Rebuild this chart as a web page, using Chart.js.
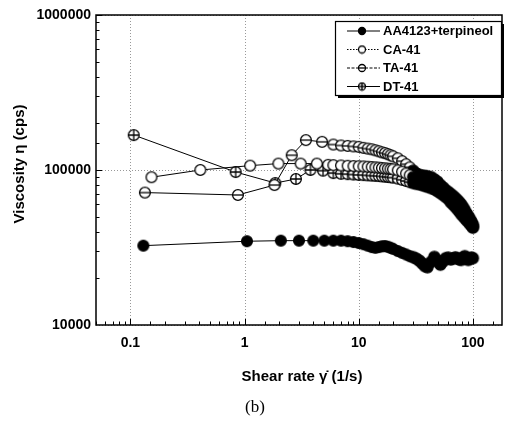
<!DOCTYPE html>
<html>
<head>
<meta charset="utf-8">
<script src="https://cdn.jsdelivr.net/npm/chart.js@4.4.1/dist/chart.umd.min.js"></script>
<style>
  html, body { margin: 0; padding: 0; background: #fff; }
  #grafico { display: block; }
</style>
</head>
<body>
<canvas id="grafico" width="512" height="422"></canvas>
<script>
// ========================= DADOS =========================
const seriesNames = ['AA4123+terpineol', 'CA-41', 'TA-41', 'DT-41'];
const xTickLabels = ['0.1', '1', '10', '100'];
const yTickLabels = ['10000', '100000', '1000000'];

// taxas de cisalhamento da parte densa (comum às quatro curvas)
const denseRate = [6, 7, 8, 9, 10, 11, 12, 13, 14, 15, 16, 17, 18, 19, 20,
    22, 24, 26, 28, 30, 32, 34, 36, 38, 40,
    43, 46, 49, 52, 55, 58, 61, 64, 67, 70, 73, 76, 79, 82, 85, 88, 91, 94, 97, 100];

// início de cada curva (baixas taxas)
const aaRate = [0.13, 1.05, 2.08, 3, 4, 5];
const aaVisc = [32500, 34700, 35000, 35000, 35000, 35000];
const caRate = [0.153, 0.41, 1.12, 1.98, 3.1, 4.3, 5.4];
const caVisc = [89800, 100000, 106700, 110000, 110000, 110000, 108000];
const taRate = [0.134, 0.875, 1.83, 2.59, 3.45, 4.78];
const taVisc = [71500, 69000, 80000, 124500, 156000, 152000];
const dtRate = [0.107, 0.836, 1.86, 2.82, 3.78, 4.87];
const dtVisc = [168000, 97000, 82400, 87500, 100000, 99000];

// parte densa
const aaDense = [35000, 35000, 34700, 34300, 33800, 33200, 32500, 31800, 31500, 31800, 32200, 32300, 32000, 31500, 31000,
    30000, 29200, 28500, 27800, 27400, 26800, 26000, 25000, 24000, 23600,
    25500, 27500, 26000, 24500, 25800, 27000, 27200, 26500, 26800, 27300, 27000, 26500, 26300, 27200, 27800, 27000, 26300, 26800, 27200, 27000];
const caDense = [107500, 107000, 106500, 106000, 105800, 105500, 105000, 104500, 104000, 103500, 103000, 102500, 102000, 101500, 101000,
    99500, 97500, 95000, 92500, 90000, 88000, 87000, 86500, 86000, 85500,
    84000, 81500, 78500, 75500, 72500, 70000, 67500, 65500, 63500, 61500, 59500, 57500, 55500, 53500, 51500, 49500, 47500, 46000, 44500, 42500];
const taDense = [146000, 144000, 143000, 142000, 141000, 139000, 137500, 136000, 134000, 132000, 130000, 128500, 126500, 124500, 122500,
    119000, 114000, 109000, 104000, 99000, 95000, 93000, 92000, 91500, 91000,
    90000, 87000, 84000, 80000, 77000, 74000, 72000, 70000, 68000, 66000, 64000, 62000, 60000, 57500, 55000, 52500, 50500, 48500, 46500, 44500];
const dtDense = [95500, 94500, 94000, 93500, 93000, 92700, 92400, 92000, 91700, 91400, 91000, 90600, 90200, 89800, 89300,
    88000, 86500, 85000, 83500, 82500, 81500, 81000, 80000, 79000, 78000,
    76500, 75000, 73000, 71000, 69000, 67000, 65000, 62000, 60000, 58000, 56000, 54000, 52000, 50500, 49000, 47500, 46500, 45000, 44000, 43000];

// ========================= MARCADORES =========================
const FONTE = '"Liberation Sans", Arial, sans-serif';

function criarMarcador(tipo, r, escuro) {
    const c = document.createElement('canvas');
    const s = Math.ceil(r * 2 + 3);
    c.width = s; c.height = s;
    const g = c.getContext('2d');
    const m = s / 2;
    g.lineWidth = 1.3;
    g.strokeStyle = '#000';
    g.beginPath();
    g.arc(m, m, r, 0, Math.PI * 2);
    g.fillStyle = (tipo === 'cheio' || escuro) ? '#000' : '#fff';
    g.fill();
    g.stroke();
    if (!escuro && (tipo === 'menos' || tipo === 'mais')) {
        g.beginPath();
        g.moveTo(m - r, m); g.lineTo(m + r, m);
        if (tipo === 'mais') { g.moveTo(m, m - r); g.lineTo(m, m + r); }
        g.stroke();
    }
    return c;
}

const tipos = ['cheio', 'vazio', 'menos', 'mais'];
const marcClaro = tipos.map(t => criarMarcador(t, 5.4, false));
const marcEscuro = tipos.map(t => criarMarcador(t, 5.6, true));
const marcLegenda = tipos.map(t => criarMarcador(t, 3.5, false));
const tracoLegenda = [[], [1.5, 1.5], [3, 1.5], []];

function juntar(xs, ys) {
    return xs.map((x, i) => ({ x: x, y: ys[i] }));
}

const curvas = [
    juntar(aaRate.concat(denseRate), aaVisc.concat(aaDense)),
    juntar(caRate.concat(denseRate), caVisc.concat(caDense)),
    juntar(taRate.concat(denseRate), taVisc.concat(taDense)),
    juntar(dtRate.concat(denseRate), dtVisc.concat(dtDense))
];

function ehDecada(v) {
    const l = Math.log10(v);
    return Math.abs(l - Math.round(l)) < 1e-6;
}

function rotulo(lista, v) {
    const achado = lista.find(l => Math.abs(Number(l) - v) / v < 1e-6);
    return achado || '';
}

// ========================= MOLDURA, TÍTULOS E LEGENDA =========================
const moldura = {
    id: 'moldura',
    beforeDatasetsDraw(chart) {
        const ctx = chart.ctx;
        const a = chart.chartArea;
        ctx.save();
        ctx.strokeStyle = '#999';
        ctx.lineWidth = 1;
        ctx.setLineDash([1, 2]);
        chart.scales.x.ticks.forEach(t => {
            if (!ehDecada(t.value)) return;
            const px = Math.round(chart.scales.x.getPixelForValue(t.value)) + 0.5;
            ctx.beginPath(); ctx.moveTo(px, a.top); ctx.lineTo(px, a.bottom); ctx.stroke();
        });
        chart.scales.y.ticks.forEach(t => {
            if (!ehDecada(t.value)) return;
            const py = Math.round(chart.scales.y.getPixelForValue(t.value)) + 0.5;
            ctx.beginPath(); ctx.moveTo(a.left, py); ctx.lineTo(a.right, py); ctx.stroke();
        });
        ctx.restore();
    },
    afterDraw(chart) {
        const ctx = chart.ctx;
        const a = chart.chartArea;
        ctx.save();

        // marcas internas nos eixos
        ctx.strokeStyle = '#000';
        ctx.lineWidth = 1;
        chart.scales.x.ticks.forEach(t => {
            const px = Math.round(chart.scales.x.getPixelForValue(t.value)) + 0.5;
            if (px < a.left || px > a.right) return;
            const len = ehDecada(t.value) ? 6 : 3.5;
            ctx.beginPath(); ctx.moveTo(px, a.bottom); ctx.lineTo(px, a.bottom - len); ctx.stroke();
        });
        chart.scales.y.ticks.forEach(t => {
            const py = Math.round(chart.scales.y.getPixelForValue(t.value)) + 0.5;
            if (py < a.top || py > a.bottom) return;
            const len = ehDecada(t.value) ? 6 : 3.5;
            ctx.beginPath(); ctx.moveTo(a.left, py); ctx.lineTo(a.left + len, py); ctx.stroke();
        });

        // caixa do gráfico
        ctx.lineWidth = 1.5;
        ctx.strokeRect(a.left, a.top, a.right - a.left, a.bottom - a.top);

        // legenda com sombra
        const lx = 335, ly = 21, lw = 166, lh = 74;
        ctx.fillStyle = '#000';
        ctx.fillRect(lx + 3, ly + 3, lw, lh);
        ctx.fillStyle = '#fff';
        ctx.fillRect(lx, ly, lw, lh);
        ctx.lineWidth = 1.2;
        ctx.strokeRect(lx + 0.5, ly + 0.5, lw, lh);
        ctx.font = 'bold 13px ' + FONTE;
        ctx.textAlign = 'left';
        ctx.textBaseline = 'middle';
        seriesNames.forEach((nome, i) => {
            const y = ly + 10 + i * 18.5;
            ctx.setLineDash(tracoLegenda[i]);
            ctx.lineWidth = 1;
            ctx.beginPath(); ctx.moveTo(347, y); ctx.lineTo(380, y); ctx.stroke();
            ctx.setLineDash([]);
            const m = marcLegenda[i];
            ctx.drawImage(m, 362 - m.width / 2, y - m.height / 2);
            ctx.fillStyle = '#000';
            ctx.fillText(nome, 383, y + 0.5);
        });

        // títulos dos eixos
        ctx.font = 'bold 15px ' + FONTE;
        ctx.textAlign = 'center';
        ctx.fillText('Shear rate \u03B3\u0307 (1/s)', 302, 377);
        ctx.save();
        ctx.translate(20, 164);
        ctx.rotate(-Math.PI / 2);
        ctx.fillText('Viscosity \u03B7 (cps)', 0, 0);
        ctx.restore();

        // legenda da figura
        ctx.font = '17px "Liberation Serif", "Times New Roman", serif';
        ctx.fillText('(b)', 255, 408);
        ctx.restore();
    }
};

// ========================= GRÁFICO =========================
function inicializarGrafico() {
    const ctx = document.getElementById('grafico');

    const datasets = curvas.map((dados, i) => ({
        label: seriesNames[i],
        data: dados,
        borderColor: '#000',
        borderWidth: 1,
        backgroundColor: '#000',
        pointRadius: 5,
        pointStyle: c => (c.raw && c.raw.x >= 30 ? marcEscuro[i] : marcClaro[i]),
        tension: 0
    }));

    new Chart(ctx, {
        type: 'line',
        data: { datasets: datasets },
        options: {
            responsive: false,
            animation: false,
            layout: { padding: { left: 0, right: 6, top: 15, bottom: 0 } },
            plugins: {
                legend: { display: false },
                tooltip: { enabled: false }
            },
            scales: {
                x: {
                    type: 'logarithmic',
                    min: 0.05,
                    max: 180,
                    grid: { display: false, drawTicks: false },
                    border: { display: false },
                    afterFit: s => { s.height = 97; },
                    ticks: {
                        autoSkip: false,
                        maxRotation: 0,
                        padding: 10,
                        color: '#000',
                        font: { family: FONTE, size: 14, weight: 'bold' },
                        callback: v => rotulo(xTickLabels, v)
                    }
                },
                y: {
                    type: 'logarithmic',
                    min: 10000,
                    max: 1000000,
                    grid: { display: false, drawTicks: false },
                    border: { display: false },
                    afterFit: s => { s.width = 96; },
                    ticks: {
                        autoSkip: false,
                        padding: 5,
                        color: '#000',
                        font: { family: FONTE, size: 14, weight: 'bold' },
                        callback: v => rotulo(yTickLabels, v)
                    }
                }
            }
        },
        plugins: [moldura]
    });
}

document.addEventListener('DOMContentLoaded', inicializarGrafico);
</script>
</body>
</html>
